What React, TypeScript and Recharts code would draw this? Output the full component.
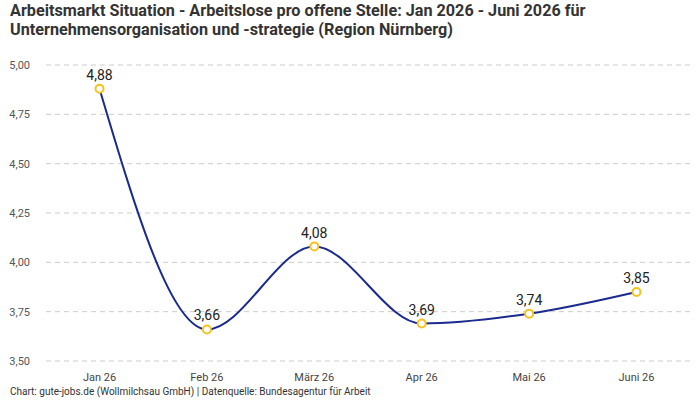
import React from "react";
import { LineChart, Line, XAxis, YAxis, CartesianGrid, LabelList } from "recharts";

const months = ["Jan 26", "Feb 26", "März 26", "Apr 26", "Mai 26", "Juni 26"];
const ratio = [4.88, 3.66, 4.08, 3.69, 3.74, 3.85];
const yTicks = [3.5, 3.75, 4.0, 4.25, 4.5, 4.75, 5.0];

const data = months.map((m, i) => ({ month: m, value: ratio[i] }));

const de = (v: number) => v.toFixed(2).replace(".", ",");

const FONT = "Roboto, 'Noto Sans', sans-serif";

export default function App() {
  return (
    <div
      style={{
        position: "absolute",
        left: 0,
        top: 0,
        width: 700,
        height: 400,
        background: "#fff",
        fontFamily: FONT,
        overflow: "hidden",
      }}
    >
      <div
        style={{
          position: "absolute",
          left: 10,
          top: 1,
          fontSize: 16.2,
          fontWeight: 700,
          lineHeight: "19px",
          color: "#333",
          whiteSpace: "nowrap",
        }}
      >
        Arbeitsmarkt Situation - Arbeitslose pro offene Stelle: Jan 2026 - Juni 2026 für
        <br />
        Unternehmensorganisation und -strategie (Region Nürnberg)
      </div>
      <LineChart
        width={700}
        height={400}
        data={data}
        margin={{ top: 65, right: 10, bottom: 19, left: 0 }}
      >
        <CartesianGrid vertical={false} stroke="#ccc" strokeDasharray="5 4" />
        <XAxis
          dataKey="month"
          axisLine={false}
          tickLine={false}
          height={20}
          tickMargin={6}
          padding={{ left: 53.5, right: 53.5 }}
          tick={{ fontSize: 11, fill: "#444", fontFamily: FONT }}
        />
        <YAxis
          width={46}
          domain={[3.5, 5]}
          ticks={yTicks}
          axisLine={false}
          tickLine={false}
          tickMargin={10}
          tickFormatter={de}
          tick={{ fontSize: 11, fill: "#555", fontFamily: FONT }}
        />
        <Line
          type="monotone"
          dataKey="value"
          stroke="#1a2a8e"
          strokeWidth={2}
          dot={{ r: 4, stroke: "#f8c21c", strokeWidth: 2, fill: "#fff" }}
          isAnimationActive={false}
        >
          <LabelList
            dataKey="value"
            position="top"
            offset={9}
            formatter={(v: number) => de(v)}
            style={{ fontSize: 14, fill: "#222", fontFamily: FONT }}
          />
        </Line>
      </LineChart>
      <div
        style={{
          position: "absolute",
          left: 10,
          top: 386,
          fontSize: 10,
          color: "#333",
          whiteSpace: "nowrap",
        }}
      >
        Chart: gute-jobs.de (Wollmilchsau GmbH) | Datenquelle: Bundesagentur für Arbeit
      </div>
    </div>
  );
}
